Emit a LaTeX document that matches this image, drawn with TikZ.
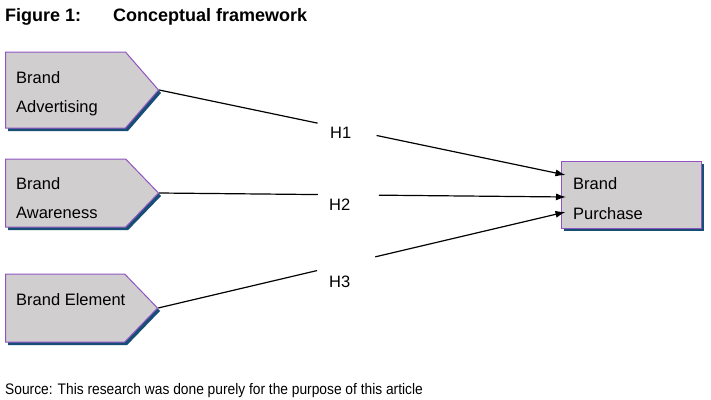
\documentclass[tikz,border=0pt]{standalone}
\usepackage{fontspec}
\setmainfont{Liberation Sans}
\newfontfamily\srcfont[FakeStretch=0.9]{Liberation Sans}
\usetikzlibrary{shapes.symbols,shadows,arrows.meta,calc}
\definecolor{boxgray}{RGB}{208,206,206}
\definecolor{boxline}{RGB}{145,85,195}
\definecolor{shadowblue}{RGB}{22,78,118}

\tikzset{
  boxshadow/.style={drop shadow={shadow xshift=2.5pt, shadow yshift=-3pt, fill=shadowblue, opacity=1}},
  factor/.style={signal, signal to=east, signal pointer angle=#1, draw=boxline, fill=boxgray,
    line width=1pt, inner sep=0pt, minimum width=153pt, anchor=west, boxshadow},
  outcome/.style={rectangle, draw=boxline, fill=boxgray, line width=1pt, inner sep=0pt,
    minimum width=140pt, minimum height=67pt, boxshadow},
  boxtext/.style={anchor=base west, inner sep=0pt, font=\fontsize{16.5}{20}\selectfont},
  hyp/.style={anchor=base west, inner sep=0pt, font=\fontsize{16.5}{20}\selectfont},
  link/.style={line width=1.2pt},
  tip/.style={link, -{Latex[length=10pt, width=7pt]}}
}

\begin{document}
\begin{tikzpicture}[x=1pt, y=-1pt]
    \useasboundingbox (0,0) rectangle (711,399);

    % title and source
    \node[anchor=base west, inner sep=0pt, font=\bfseries\fontsize{18}{21}\selectfont] (fig) at (5,21.5) {Figure 1:};
    \node[anchor=base west, inner sep=0pt, font=\bfseries\fontsize{18}{21}\selectfont] (title) at (113,21.5) {Conceptual framework};
    \node[anchor=base west, inner sep=0pt, font=\srcfont\fontsize{15.3}{18}\selectfont] (src) at (5,394) {Source: This research was done purely for the purpose of this article};

    % boxes
    \node[factor=98, minimum height=76pt] (adv) at (5,90) {};
    \node[factor=92, minimum height=68pt] (awa) at (5,193) {};
    \node[factor=92, minimum height=68pt, minimum width=152pt] (ele) at (5,308) {};
    \node[outcome] (pur) at (631,194.5) {};

    \node[boxtext] (adv1) at (16,83) {Brand};
    \node[boxtext] (adv2) at (16,112.5) {Advertising};
    \node[boxtext] (awa1) at (16,189) {Brand};
    \node[boxtext] (awa2) at (16,218) {Awareness};
    \node[boxtext] (ele1) at (16,305.5) {Brand Element};
    \node[boxtext] (pur1) at (573,189) {Brand};
    \node[boxtext] (pur2) at (573,219) {Purchase};

    % hypotheses
    \node[hyp] (h1) at (330,138) {H1};
    \node[hyp] (h2) at (329,210) {H2};
    \node[hyp] (h3) at (329,287.5) {H3};

    \coordinate (e1) at ($(pur.west)+(5,-19.5)$);
    \coordinate (e2) at ($(pur.west)+(5.5,2.5)$);
    \coordinate (e3) at ($(pur.west)+(5,17.5)$);

    \draw[link] (adv.east) -- ($(adv.east)!0.39!(e1)$);
    \draw[tip] ($(adv.east)!0.535!(e1)$) -- (e1);
    \draw[link] (awa.east) -- ($(awa.east)!0.39!(e2)$);
    \draw[tip] ($(awa.east)!0.54!(e2)$) -- (e2);
    \draw[link] (ele.east) -- ($(ele.east)!0.39!(e3)$);
    \draw[tip] ($(ele.east)!0.533!(e3)$) -- (e3);
\end{tikzpicture}
\end{document}
